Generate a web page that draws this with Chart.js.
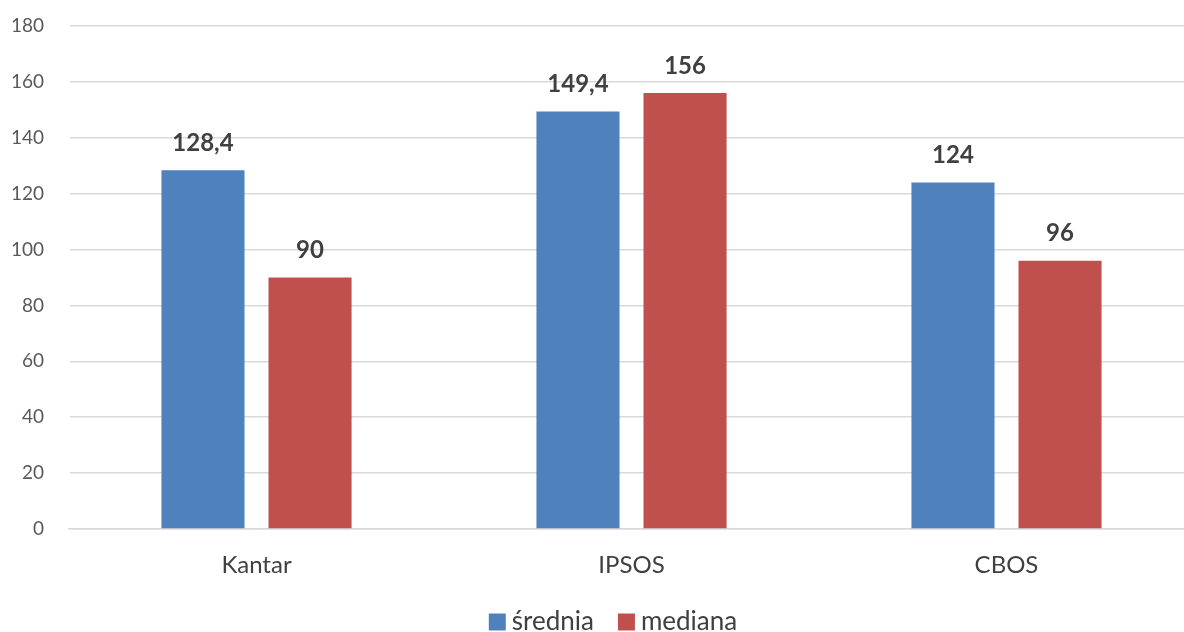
<!DOCTYPE html>
<html>
<head>
<meta charset="utf-8">
<script src="https://cdn.jsdelivr.net/npm/chart.js@4"></script>
<style>
    html, body { margin: 0; padding: 0; background: #fff; overflow: hidden; }
    #wrap { width: 1194px; height: 632px; }
</style>
</head>
<body>
<div id="wrap"><canvas id="barChart"></canvas></div>
<script>
// Chart data
const categories = ['Kantar', 'IPSOS', 'CBOS'];
const seriesNames = ['średnia', 'mediana'];
const sredniaValues = [128.4, 149.4, 124];
const medianaValues = [90, 156, 96];
const yTicks = [0, 20, 40, 60, 80, 100, 120, 140, 160, 180];

const BLUE = '#4F81BD';
const RED = '#C0504D';
const FONT = "Lato, 'Open Sans', sans-serif";

// Polish decimal comma
function formatValue(v) {
    return String(v).replace('.', ',');
}

// Value labels above every bar
const valueLabels = {
    id: 'valueLabels',
    afterDatasetsDraw(chart) {
        const ctx = chart.ctx;
        ctx.save();
        ctx.font = `bold 24px ${FONT}`;
        ctx.fillStyle = '#404040';
        ctx.textAlign = 'center';
        ctx.textBaseline = 'middle';
        chart.data.datasets.forEach((ds, i) => {
            chart.getDatasetMeta(i).data.forEach((bar, j) => {
                ctx.fillText(formatValue(ds.data[j]), bar.x, bar.y - 27);
            });
        });
        ctx.restore();
    }
};

// Legend drawn under the axis labels
const bottomLegend = {
    id: 'bottomLegend',
    afterDraw(chart) {
        const ctx = chart.ctx;
        ctx.save();
        ctx.font = `26px ${FONT}`;
        ctx.textBaseline = 'middle';
        ctx.textAlign = 'left';
        const box = 17, gap = 6, spacing = 24;
        const items = chart.data.datasets.map(ds => ({
            text: ds.label, color: ds.backgroundColor,
            w: box + gap + ctx.measureText(ds.label).width
        }));
        const total = items.reduce((s, it) => s + it.w, 0) + spacing * (items.length - 1);
        let x = 613 - total / 2;
        const y = 622;
        items.forEach(it => {
            ctx.fillStyle = it.color;
            ctx.fillRect(x, y - box / 2, box, box);
            ctx.fillStyle = '#404040';
            ctx.fillText(it.text, x + box + gap, y);
            x += it.w + spacing;
        });
        ctx.restore();
    }
};

Chart.defaults.font.family = FONT;

new Chart(document.getElementById('barChart'), {
    type: 'bar',
    data: {
        labels: categories,
        datasets: [
            { label: seriesNames[0], data: sredniaValues, backgroundColor: BLUE },
            { label: seriesNames[1], data: medianaValues, backgroundColor: RED }
        ]
    },
    options: {
        responsive: true,
        maintainAspectRatio: false,
        animation: false,
        categoryPercentage: 0.571,
        barPercentage: 0.776,
        layout: { padding: { top: 26, left: 0, right: 0, bottom: 0 } },
        plugins: {
            legend: { display: false },
            tooltip: { enabled: false }
        },
        scales: {
            x: {
                grid: { display: false },
                border: { display: true, color: '#D9D9D9', width: 1.5 },
                ticks: { color: '#404040', font: { size: 24 }, padding: 14 },
                afterFit: (scale) => { scale.height = 103; }
            },
            y: {
                min: 0,
                max: 180,
                afterBuildTicks: (scale) => { scale.ticks = yTicks.map(v => ({ value: v })); },
                grid: { color: '#D9D9D9', lineWidth: 1.5, drawTicks: false },
                border: { display: true, color: 'rgba(0,0,0,0)' },
                ticks: { color: '#595959', font: { size: 19 }, padding: 25 },
                afterFit: (scale) => {
                    scale.width = 69;
                    scale.paddingTop = 0;
                    scale.paddingBottom = 0;
                }
            }
        }
    },
    plugins: [valueLabels, bottomLegend]
});
</script>
</body>
</html>
